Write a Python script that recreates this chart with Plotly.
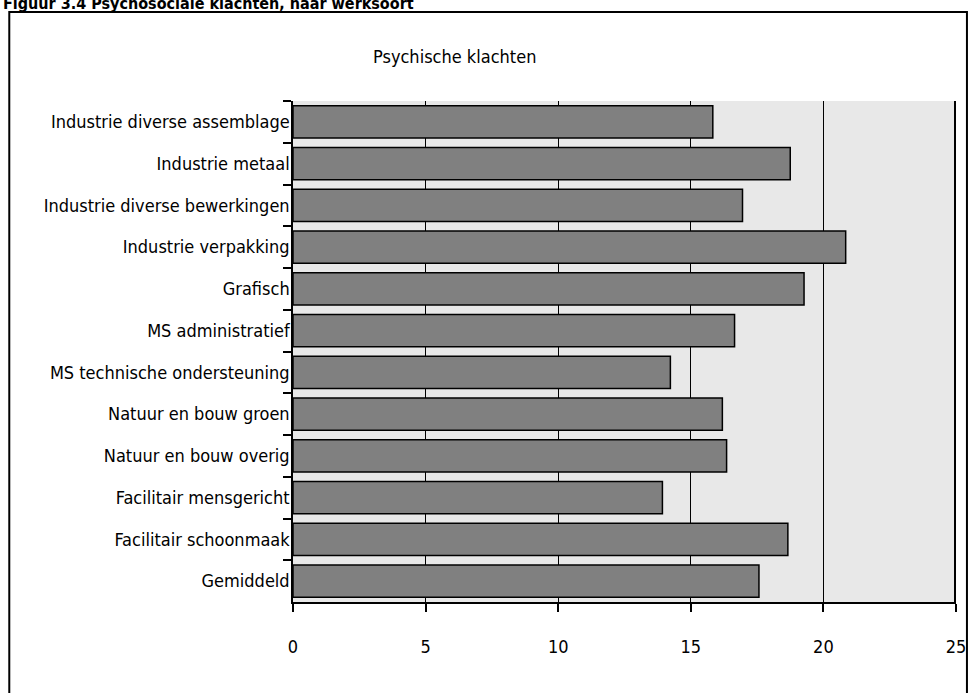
import plotly.graph_objects as go

categories = [
    "Industrie diverse assemblage",
    "Industrie metaal",
    "Industrie diverse bewerkingen",
    "Industrie verpakking",
    "Grafisch",
    "MS administratief",
    "MS technische ondersteuning",
    "Natuur en bouw groen",
    "Natuur en bouw overig",
    "Facilitair mensgericht",
    "Facilitair schoonmaak",
    "Gemiddeld",
]
values = [15.83, 18.75, 16.95, 20.84, 19.27, 16.65, 14.23, 16.19, 16.35, 13.93, 18.66, 17.57]
x_ticks = [0, 5, 10, 15, 20, 25]

FONT = "DejaVu Sans Condensed, Liberation Sans Narrow, sans-serif"

W, H = 978, 693
L, R, T, B = 293, 959, 101, 602

def px(xp):
    return (xp - L) / (R - L)

def py(yp):
    return (B - yp) / (B - T)

fig = go.Figure(go.Bar(
    x=values, y=categories, orientation="h",
    marker=dict(color="#808080", line=dict(color="black", width=1.5)),
    hoverinfo="x+y",
))

fig.update_layout(
    width=W, height=H,
    margin=dict(l=L, r=W - R, t=T, b=H - B),
    paper_bgcolor="white", plot_bgcolor="#e8e8e8",
    bargap=0.23, showlegend=False,
    font=dict(family=FONT, size=18, color="black"),
)
fig.update_xaxes(
    range=[x_ticks[0], x_ticks[-1]], tickvals=x_ticks, ticktext=[str(v) for v in x_ticks],
    showgrid=True, gridcolor="black", gridwidth=1, zeroline=False,
    showline=True, linecolor="black", linewidth=1.5,
    ticks="outside", ticklen=8, tickcolor="black", tickwidth=1.5,
    ticklabelstandoff=20, tickfont=dict(size=18),
)
fig.update_yaxes(
    autorange="reversed", tickson="boundaries",
    showline=True, linecolor="black", linewidth=1.5,
    ticks="outside", ticklen=8, tickcolor="black", tickwidth=1.5,
    showgrid=False, ticklabelstandoff=-2, tickfont=dict(size=18),
)

# right edge line at the axis maximum
fig.add_shape(type="line", xref="paper", yref="paper",
              x0=px(R - 1), x1=px(R - 1), y0=0, y1=1,
              line=dict(color="black", width=2), layer="above")

fig.add_shape(type="rect", xref="paper", yref="paper",
              x0=px(8), x1=px(970), y0=py(710), y1=py(12),
              line=dict(color="black", width=2), fillcolor="rgba(0,0,0,0)", layer="below")

fig.add_annotation(text="Psychische klachten", xref="paper", yref="paper",
                   x=px(455), y=py(57), xanchor="center", yanchor="middle",
                   showarrow=False, font=dict(size=18))
fig.add_annotation(text="<b>Figuur 3.4 Psychosociale klachten, naar werksoort</b>",
                   xref="paper", yref="paper", x=px(0), y=py(15),
                   xanchor="left", yanchor="bottom", showarrow=False,
                   font=dict(size=16))

fig.write_html("out.html", config={"displayModeBar": False},
               post_script="document.body.style.margin='0px';document.body.style.overflow='hidden';")
